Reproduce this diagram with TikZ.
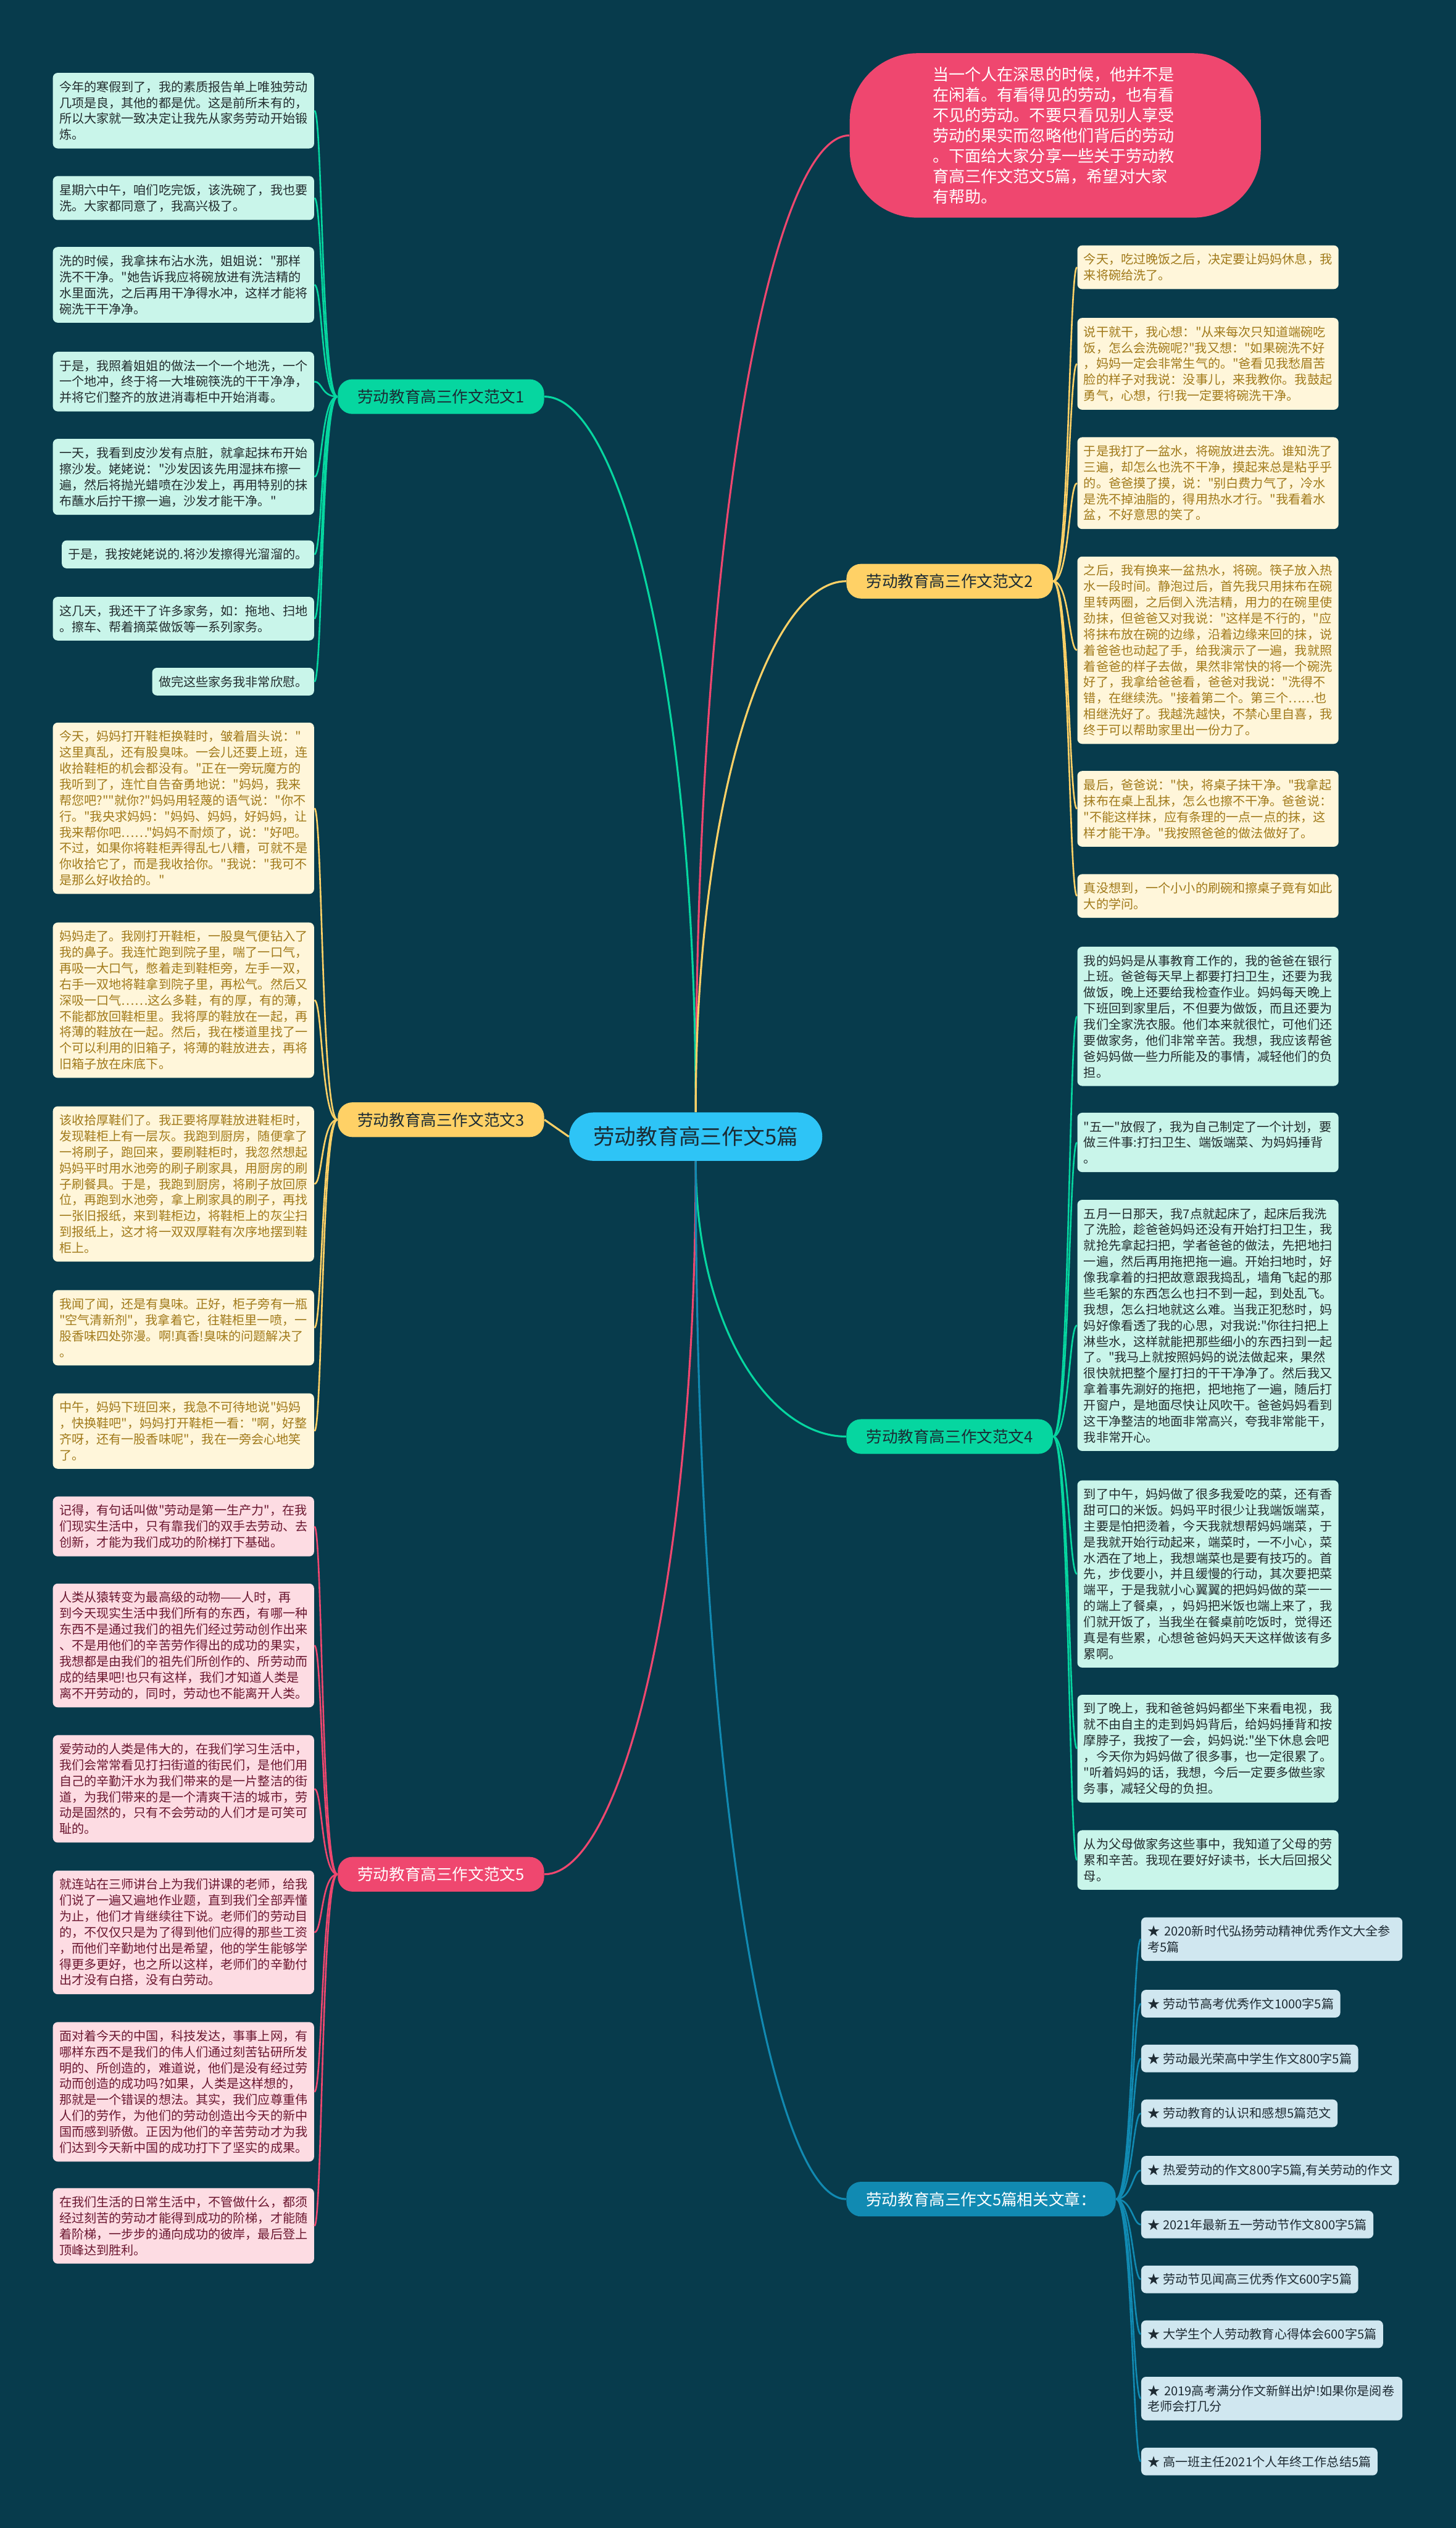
\documentclass[tikz,border=0pt]{standalone}
\usepackage{fontspec}
\setmainfont{Noto Sans CJK SC}[Ligatures=TeXOff]
\usepackage{xcolor}
\definecolor{mmbg}{RGB}{7,59,76}
\definecolor{mmpink}{RGB}{239,71,111}
\definecolor{mmyellow}{RGB}{255,209,102}
\definecolor{mmgreen}{RGB}{6,214,160}
\definecolor{mmblue}{RGB}{17,138,178}
\definecolor{mmcyan}{RGB}{46,196,246}
\definecolor{mmdark}{RGB}{27,43,52}
\definecolor{mmmint}{RGB}{201,245,234}
\definecolor{mmminttext}{RGB}{34,44,46}
\definecolor{mmcream}{RGB}{255,246,218}
\definecolor{mmcreamtext}{RGB}{161,122,27}
\definecolor{mmrose}{RGB}{253,220,227}
\definecolor{mmrosetext}{RGB}{107,23,48}
\definecolor{mmsky}{RGB}{208,231,240}
\definecolor{mmskytext}{RGB}{30,43,51}
\newcommand{\leaffont}{\fontsize{7.7}{9.9}\selectfont}
\newcommand{\branchfont}{\fontsize{9.8}{12}\selectfont}
\newcommand{\rootfont}{\fontsize{13.3}{16}\selectfont}
\newcommand{\introfont}{\fontsize{10}{12.6}\selectfont}

\begin{document}
\begin{tikzpicture}[
  x=1pt, y=-1pt,
  rootnode/.style={fill=mmcyan,text=mmdark,rounded corners=15pt,minimum width=157pt,
                   minimum height=30pt,inner sep=0pt,font=\rootfont},
  branchnode/.style={rounded corners=9pt,minimum width=128pt,minimum height=21.5pt,
                     inner sep=3pt,font=\branchfont},
  leafbox/.style={rounded corners=3pt,inner xsep=4pt,inner ysep=5pt,align=left,font=\leaffont},
  wideleaf/.style={leafbox,text width=154pt},
  mintleaf/.style={fill=mmmint,text=mmminttext},
  creamleaf/.style={fill=mmcream,text=mmcreamtext},
  roseleaf/.style={fill=mmrose,text=mmrosetext},
  skyleaf/.style={fill=mmsky,text=mmskytext},
  trunk/.style={line width=1.2pt},
  twig/.style={line width=1pt},
]
  % Background
  \fill[mmbg] (0,0) rectangle (903,1568);
  \useasboundingbox (0,0) rectangle (903,1568);

  % Centre and intro
  \node[rootnode] (root) at (431.5,705) {劳动教育高三作文5篇};
  \node[fill=mmpink,text=white,rounded corners=42pt,minimum width=255pt,minimum height=102pt,
        text width=152pt,align=left,font=\introfont] (intro) at (654.5,84)
    {当一个人在深思的时候，他并不是\\在闲着。有看得见的劳动，也有看\\不见的劳动。不要只看见别人享受\\劳动的果实而忽略他们背后的劳动\\。下面给大家分享一些关于劳动教\\育高三作文范文5篇，希望对大家\\有帮助。};

  % Branch labels
  \node[branchnode,fill=mmgreen,text=mmdark] (br1) at (273.5,246) {劳动教育高三作文范文1};
  \node[branchnode,fill=mmyellow,text=mmdark] (br2) at (589,360.5) {劳动教育高三作文范文2};
  \node[branchnode,fill=mmyellow,text=mmdark] (br3) at (273.5,694.5) {劳动教育高三作文范文3};
  \node[branchnode,fill=mmgreen,text=mmdark] (br4) at (589,891) {劳动教育高三作文范文4};
  \node[branchnode,fill=mmpink,text=white] (br5) at (273.5,1162.5) {劳动教育高三作文范文5};
  \node[branchnode,fill=mmblue,text=white,minimum width=167pt] (brrel) at (608.5,1364) {劳动教育高三作文5篇相关文章：};

  % Essay 1
  \node[wideleaf,mintleaf,anchor=north east] (lf1-1) at (195,45) {今年的寒假到了，我的素质报告单上唯独劳动\\几项是良，其他的都是优。这是前所未有的，\\所以大家就一致决定让我先从家务劳动开始锻\\炼。};
  \node[wideleaf,mintleaf,anchor=north east] (lf1-2) at (195,109) {星期六中午，咱们吃完饭，该洗碗了，我也要\\洗。大家都同意了，我高兴极了。};
  \node[wideleaf,mintleaf,anchor=north east] (lf1-3) at (195,153) {洗的时候，我拿抹布沾水洗，姐姐说："那样\\洗不干净。"她告诉我应将碗放进有洗洁精的\\水里面洗，之后再用干净得水冲，这样才能将\\碗洗干干净净。};
  \node[wideleaf,mintleaf,anchor=north east] (lf1-4) at (195,218) {于是，我照着姐姐的做法一个一个地洗，一个\\一个地冲，终于将一大堆碗筷洗的干干净净，\\并将它们整齐的放进消毒柜中开始消毒。};
  \node[wideleaf,mintleaf,anchor=north east] (lf1-5) at (195,272) {一天，我看到皮沙发有点脏，就拿起抹布开始\\擦沙发。姥姥说："沙发因该先用湿抹布擦一\\遍，然后将抛光蜡喷在沙发上，再用特别的抹\\布蘸水后拧干擦一遍，沙发才能干净。"};
  \node[leafbox,mintleaf,anchor=north east] (lf1-6) at (195,335) {于是，我按姥姥说的.将沙发擦得光溜溜的。};
  \node[wideleaf,mintleaf,anchor=north east] (lf1-7) at (195,370) {这几天，我还干了许多家务，如：拖地、扫地\\。擦车、帮着摘菜做饭等一系列家务。};
  \node[leafbox,mintleaf,anchor=north east] (lf1-8) at (195,414) {做完这些家务我非常欣慰。};

  % Essay 2
  \node[wideleaf,creamleaf,anchor=north west] (lf2-1) at (668,152) {今天，吃过晚饭之后，决定要让妈妈休息，我\\来将碗给洗了。};
  \node[wideleaf,creamleaf,anchor=north west] (lf2-2) at (668,197) {说干就干，我心想："从来每次只知道端碗吃\\饭，怎么会洗碗呢?"我又想："如果碗洗不好\\，妈妈一定会非常生气的。"爸看见我愁眉苦\\脸的样子对我说：没事儿，来我教你。我鼓起\\勇气，心想，行!我一定要将碗洗干净。};
  \node[wideleaf,creamleaf,anchor=north west] (lf2-3) at (668,271) {于是我打了一盆水，将碗放进去洗。谁知洗了\\三遍，却怎么也洗不干净，摸起来总是粘乎乎\\的。爸爸摸了摸，说："别白费力气了，冷水\\是洗不掉油脂的，得用热水才行。"我看着水\\盆，不好意思的笑了。};
  \node[wideleaf,creamleaf,anchor=north west] (lf2-4) at (668,345) {之后，我有换来一盆热水，将碗。筷子放入热\\水一段时间。静泡过后，首先我只用抹布在碗\\里转两圈，之后倒入洗洁精，用力的在碗里使\\劲抹，但爸爸又对我说："这样是不行的，"应\\将抹布放在碗的边缘，沿着边缘来回的抹，说\\着爸爸也动起了手，给我演示了一遍，我就照\\着爸爸的样子去做，果然非常快的将一个碗洗\\好了，我拿给爸爸看，爸爸对我说："洗得不\\错，在继续洗。"接着第二个。第三个……也\\相继洗好了。我越洗越快，不禁心里自喜，我\\终于可以帮助家里出一份力了。};
  \node[wideleaf,creamleaf,anchor=north west] (lf2-5) at (668,478) {最后，爸爸说："快，将桌子抹干净。"我拿起\\抹布在桌上乱抹，怎么也擦不干净。爸爸说：\\"不能这样抹，应有条理的一点一点的抹，这\\样才能干净。"我按照爸爸的做法做好了。};
  \node[wideleaf,creamleaf,anchor=north west] (lf2-6) at (668,542) {真没想到，一个小小的刷碗和擦桌子竟有如此\\大的学问。};

  % Essay 3
  \node[wideleaf,creamleaf,anchor=north east] (lf3-1) at (195,448) {今天，妈妈打开鞋柜换鞋时，皱着眉头说："\\这里真乱，还有股臭味。一会儿还要上班，连\\收拾鞋柜的机会都没有。"正在一旁玩魔方的\\我听到了，连忙自告奋勇地说："妈妈，我来\\帮您吧?""就你?"妈妈用轻蔑的语气说："你不\\行。"我央求妈妈："妈妈、妈妈，好妈妈，让\\我来帮你吧……"妈妈不耐烦了，说："好吧。\\不过，如果你将鞋柜弄得乱七八糟，可就不是\\你收拾它了，而是我收拾你。"我说："我可不\\是那么好收拾的。"};
  \node[wideleaf,creamleaf,anchor=north east] (lf3-2) at (195,572) {妈妈走了。我刚打开鞋柜，一股臭气便钻入了\\我的鼻子。我连忙跑到院子里，喘了一口气，\\再吸一大口气，憋着走到鞋柜旁，左手一双，\\右手一双地将鞋拿到院子里，再松气。然后又\\深吸一口气……这么多鞋，有的厚，有的薄，\\不能都放回鞋柜里。我将厚的鞋放在一起，再\\将薄的鞋放在一起。然后，我在楼道里找了一\\个可以利用的旧箱子，将薄的鞋放进去，再将\\旧箱子放在床底下。};
  \node[wideleaf,creamleaf,anchor=north east] (lf3-3) at (195,686) {该收拾厚鞋们了。我正要将厚鞋放进鞋柜时，\\发现鞋柜上有一层灰。我跑到厨房，随便拿了\\一将刷子，跑回来，要刷鞋柜时，我忽然想起\\妈妈平时用水池旁的刷子刷家具，用厨房的刷\\子刷餐具。于是，我跑到厨房，将刷子放回原\\位，再跑到水池旁，拿上刷家具的刷子，再找\\一张旧报纸，来到鞋柜边，将鞋柜上的灰尘扫\\到报纸上，这才将一双双厚鞋有次序地摆到鞋\\柜上。};
  \node[wideleaf,creamleaf,anchor=north east] (lf3-4) at (195,800) {我闻了闻，还是有臭味。正好，柜子旁有一瓶\\"空气清新剂"，我拿着它，往鞋柜里一喷，一\\股香味四处弥漫。啊!真香!臭味的问题解决了\\。};
  \node[wideleaf,creamleaf,anchor=north east] (lf3-5) at (195,864) {中午，妈妈下班回来，我急不可待地说"妈妈\\，快换鞋吧"，妈妈打开鞋柜一看："啊，好整\\齐呀，还有一股香味呢"，我在一旁会心地笑\\了。};

  % Essay 4
  \node[wideleaf,mintleaf,anchor=north west] (lf4-1) at (668,587) {我的妈妈是从事教育工作的，我的爸爸在银行\\上班。爸爸每天早上都要打扫卫生，还要为我\\做饭，晚上还要给我检查作业。妈妈每天晚上\\下班回到家里后，不但要为做饭，而且还要为\\我们全家洗衣服。他们本来就很忙，可他们还\\要做家务，他们非常辛苦。我想，我应该帮爸\\爸妈妈做一些力所能及的事情，减轻他们的负\\担。};
  \node[wideleaf,mintleaf,anchor=north west] (lf4-2) at (668,690) {"五一"放假了，我为自己制定了一个计划，要\\做三件事:打扫卫生、端饭端菜、为妈妈捶背\\。};
  \node[wideleaf,mintleaf,anchor=north west] (lf4-3) at (668,744) {五月一日那天，我7点就起床了，起床后我洗\\了洗脸，趁爸爸妈妈还没有开始打扫卫生，我\\就抢先拿起扫把，学者爸爸的做法，先把地扫\\一遍，然后再用拖把拖一遍。开始扫地时，好\\像我拿着的扫把故意跟我捣乱，墙角飞起的那\\些毛絮的东西怎么也扫不到一起，到处乱飞。\\我想，怎么扫地就这么难。当我正犯愁时，妈\\妈好像看透了我的心思，对我说:"你往扫把上\\淋些水，这样就能把那些细小的东西扫到一起\\了。"我马上就按照妈妈的说法做起来，果然\\很快就把整个屋打扫的干干净净了。然后我又\\拿着事先涮好的拖把，把地拖了一遍，随后打\\开窗户，是地面尽快让风吹干。爸爸妈妈看到\\这干净整洁的地面非常高兴，夸我非常能干，\\我非常开心。};
  \node[wideleaf,mintleaf,anchor=north west] (lf4-4) at (668,918) {到了中午，妈妈做了很多我爱吃的菜，还有香\\甜可口的米饭。妈妈平时很少让我端饭端菜，\\主要是怕把烫着，今天我就想帮妈妈端菜，于\\是我就开始行动起来，端菜时，一不小心，菜\\水洒在了地上，我想端菜也是要有技巧的。首\\先，步伐要小，并且缓慢的行动，其次要把菜\\端平，于是我就小心翼翼的把妈妈做的菜一一\\的端上了餐桌，，妈妈把米饭也端上来了，我\\们就开饭了，当我坐在餐桌前吃饭时，觉得还\\真是有些累，心想爸爸妈妈天天这样做该有多\\累啊。};
  \node[wideleaf,mintleaf,anchor=north west] (lf4-5) at (668,1051) {到了晚上，我和爸爸妈妈都坐下来看电视，我\\就不由自主的走到妈妈背后，给妈妈捶背和按\\摩脖子，我按了一会，妈妈说:"坐下休息会吧\\，今天你为妈妈做了很多事，也一定很累了。\\"听着妈妈的话，我想，今后一定要多做些家\\务事，减轻父母的负担。};
  \node[wideleaf,mintleaf,anchor=north west] (lf4-6) at (668,1135) {从为父母做家务这些事中，我知道了父母的劳\\累和辛苦。我现在要好好读书，长大后回报父\\母。};

  % Essay 5
  \node[wideleaf,roseleaf,anchor=north east] (lf5-1) at (195,928) {记得，有句话叫做"劳动是第一生产力"，在我\\们现实生活中，只有靠我们的双手去劳动、去\\创新，才能为我们成功的阶梯打下基础。};
  \node[wideleaf,roseleaf,anchor=north east] (lf5-2) at (195,982) {人类从猿转变为最高级的动物——人时，再\\到今天现实生活中我们所有的东西，有哪一种\\东西不是通过我们的祖先们经过劳动创作出来\\、不是用他们的辛苦劳作得出的成功的果实，\\我想都是由我们的祖先们所创作的、所劳动而\\成的结果吧!也只有这样，我们才知道人类是\\离不开劳动的，同时，劳动也不能离开人类。};
  \node[wideleaf,roseleaf,anchor=north east] (lf5-3) at (195,1076) {爱劳动的人类是伟大的，在我们学习生活中，\\我们会常常看见打扫街道的街民们，是他们用\\自己的辛勤汗水为我们带来的是一片整洁的街\\道，为我们带来的是一个清爽干洁的城市，劳\\动是固然的，只有不会劳动的人们才是可笑可\\耻的。};
  \node[wideleaf,roseleaf,anchor=north east] (lf5-4) at (195,1160) {就连站在三师讲台上为我们讲课的老师，给我\\们说了一遍又遍地作业题，直到我们全部弄懂\\为止，他们才肯继续往下说。老师们的劳动目\\的，不仅仅只是为了得到他们应得的那些工资\\，而他们辛勤地付出是希望，他的学生能够学\\得更多更好，也之所以这样，老师们的辛勤付\\出才没有白搭，没有白劳动。};
  \node[wideleaf,roseleaf,anchor=north east] (lf5-5) at (195,1254) {面对着今天的中国，科技发达，事事上网，有\\哪样东西不是我们的伟人们通过刻苦钻研所发\\明的、所创造的，难道说，他们是没有经过劳\\动而创造的成功吗?如果，人类是这样想的，\\那就是一个错误的想法。其实，我们应尊重伟\\人们的劳作，为他们的劳动创造出今天的新中\\国而感到骄傲。正因为他们的辛苦劳动才为我\\们达到今天新中国的成功打下了坚实的成果。};
  \node[wideleaf,roseleaf,anchor=north east] (lf5-6) at (195,1357) {在我们生活的日常生活中，不管做什么，都须\\经过刻苦的劳动才能得到成功的阶梯，才能随\\着阶梯，一步步的通向成功的彼岸，最后登上\\顶峰达到胜利。};

  % Related articles
  \node[wideleaf,skyleaf,anchor=north west] (rl-1) at (707.6,1189) {★ 2020新时代弘扬劳动精神优秀作文大全参\\考5篇};
  \node[leafbox,skyleaf,anchor=north west] (rl-2) at (707.6,1234) {★ 劳动节高考优秀作文1000字5篇};
  \node[leafbox,skyleaf,anchor=north west] (rl-3) at (707.6,1268) {★ 劳动最光荣高中学生作文800字5篇};
  \node[leafbox,skyleaf,anchor=north west] (rl-4) at (707.6,1302) {★ 劳动教育的认识和感想5篇范文};
  \node[leafbox,skyleaf,anchor=north west] (rl-5) at (707.6,1337) {★ 热爱劳动的作文800字5篇,有关劳动的作文};
  \node[leafbox,skyleaf,anchor=north west] (rl-6) at (707.6,1371) {★ 2021年最新五一劳动节作文800字5篇};
  \node[leafbox,skyleaf,anchor=north west] (rl-7) at (707.6,1405) {★ 劳动节见闻高三优秀作文600字5篇};
  \node[leafbox,skyleaf,anchor=north west] (rl-8) at (707.6,1439) {★ 大学生个人劳动教育心得体会600字5篇};
  \node[wideleaf,skyleaf,anchor=north west] (rl-9) at (707.6,1474) {★ 2019高考满分作文新鲜出炉!如果你是阅卷\\老师会打几分};
  \node[leafbox,skyleaf,anchor=north west] (rl-10) at (707.6,1518) {★ 高一班主任2021个人年终工作总结5篇};

  % Main branches
  \draw[trunk,mmpink] (root.north) .. controls +(0,-364) and +(-48,0) .. (intro.west);
  \draw[trunk,mmgreen] (root.north) .. controls +(0,-266) and +(47,0) .. (br1.east);
  \draw[trunk,mmyellow] (root.north) .. controls +(0,-198) and +(-47,0) .. (br2.west);
  \draw[trunk,mmyellow] (root.west) -- (br3.east);
  \draw[trunk,mmgreen] (root.south) .. controls +(0,103) and +(-47,0) .. (br4.west);
  \draw[trunk,mmpink] (root.south) .. controls +(0,266) and +(47,0) .. (br5.east);
  \draw[trunk,mmblue] (root.south) .. controls +(0,386) and +(-47,0) .. (brrel.west);

  % Twigs to the leaves
  \foreach \k in {1,...,8}
    \draw[twig,mmgreen] (br1.west) .. controls +(-10,0) and +(5,0) .. (lf1-\k.east);
  \foreach \k in {1,...,6}
    \draw[twig,mmyellow] (br2.east) .. controls +(10,0) and +(-5,0) .. (lf2-\k.west);
  \foreach \k in {1,...,5}
    \draw[twig,mmyellow] (br3.west) .. controls +(-10,0) and +(5,0) .. (lf3-\k.east);
  \foreach \k in {1,...,6}
    \draw[twig,mmgreen] (br4.east) .. controls +(10,0) and +(-5,0) .. (lf4-\k.west);
  \foreach \k in {1,...,6}
    \draw[twig,mmpink] (br5.west) .. controls +(-10,0) and +(5,0) .. (lf5-\k.east);
  \foreach \k in {1,...,10}
    \draw[twig,mmblue] (brrel.east) .. controls +(10,0) and +(-5,0) .. (rl-\k.west);
\end{tikzpicture}
\end{document}
